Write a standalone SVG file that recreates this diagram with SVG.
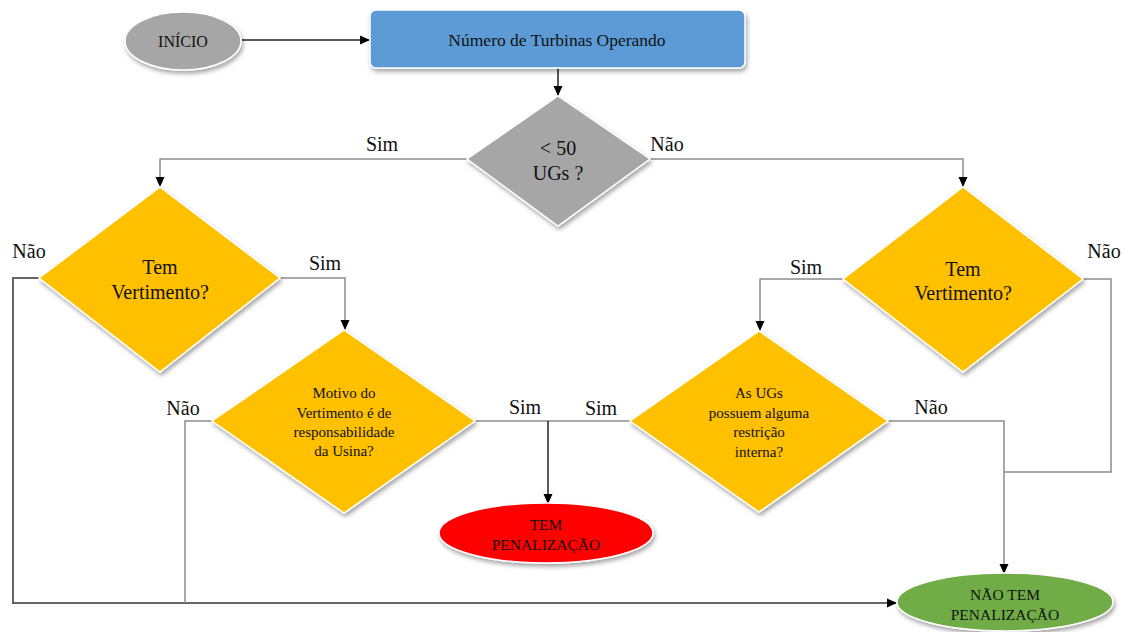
<svg xmlns="http://www.w3.org/2000/svg" width="1128" height="632" viewBox="0 0 1128 632">
<style>
.node{stroke:#ffffff;stroke-width:1.5;filter:url(#sh)}
.t{fill:#111;text-anchor:middle}
.lbl{font-size:20px;fill:#111;text-anchor:middle}
.c{fill:none;stroke:#8c8c8c;stroke-width:1.5}
.ca{fill:none;stroke:#8c8c8c;stroke-width:1.5;marker-end:url(#ah)}
.cb{fill:none;stroke:#222;stroke-width:1.5;marker-end:url(#ah)}
.cd{fill:none;stroke:#666;stroke-width:2;marker-end:url(#ah)}
</style>
<defs>
<filter id="sh" x="-20%" y="-20%" width="140%" height="150%">
<feDropShadow dx="1.5" dy="3" stdDeviation="2" flood-color="#000" flood-opacity="0.35"/>
</filter>
<marker id="ah" markerWidth="10" markerHeight="10" refX="9" refY="5" orient="auto" markerUnits="userSpaceOnUse">
<path d="M0,0.5 L10,5 L0,9.5 Z" fill="#000"/>
</marker>
</defs>
<rect width="1128" height="632" fill="#ffffff"/>
<g id="connectors">
<path class="cb" d="M242,40 L369,40"/>
<path class="cb" d="M558,67 V95"/>
<path class="ca" d="M467,159 H160 V186"/>
<path class="ca" d="M650,159 H963 V186"/>
<path class="ca" d="M280,278 H345 V329"/>
<path class="cd" d="M39,278 H13 V603 H896"/>
<path class="c" d="M212,421 H185 V603"/>
<path class="c" d="M475,421 H630"/>
<path class="cb" d="M548,421 V503"/>
<path class="ca" d="M843,279 H760 V330"/>
<path class="c" d="M1083,279 H1111 V472 H1004"/>
<path class="ca" d="M888,421 H1004 V573"/>
</g>
<g font-family="Liberation Serif, Times New Roman, serif">
<g id="inicio">
<ellipse class="node" cx="183" cy="41" rx="58" ry="29" fill="#a6a6a6"/>
<text class="t" x="183" y="47" font-size="16">INÍCIO</text>
</g>
<g id="turbinas">
<rect class="node" x="370" y="10" width="375" height="58" rx="6" fill="#5b9bd5"/>
<text class="t" x="557" y="46" font-size="17.5">Número de Turbinas Operando</text>
</g>
<g id="ugs50">
<polygon class="node" points="558,96 650,159 558,226 467,159" fill="#a6a6a6"/>
<text class="t" x="558" y="155" font-size="20">&lt; 50</text>
<text class="t" x="558" y="180" font-size="20">UGs ?</text>
</g>
<g id="vert-left">
<polygon class="node" points="160,187 280,278 160,372 39,278" fill="#ffc000"/>
<text class="t" x="160" y="274" font-size="20">Tem</text>
<text class="t" x="160" y="299" font-size="20">Vertimento?</text>
</g>
<g id="vert-right">
<polygon class="node" points="963,187 1083,279 963,372 843,279" fill="#ffc000"/>
<text class="t" x="963" y="276" font-size="20">Tem</text>
<text class="t" x="963" y="300" font-size="20">Vertimento?</text>
</g>
<g id="motivo">
<polygon class="node" points="344,330 475,421 344,513 212,421" fill="#ffc000"/>
<text class="t" x="344" y="398" font-size="15">Motivo do</text>
<text class="t" x="344" y="418" font-size="15">Vertimento é de</text>
<text class="t" x="344" y="437" font-size="15">responsabilidade</text>
<text class="t" x="344" y="456" font-size="15">da Usina?</text>
</g>
<g id="restricao">
<polygon class="node" points="759,331 888,421 759,512 630,421" fill="#ffc000"/>
<text class="t" x="759" y="398" font-size="15">As UGs</text>
<text class="t" x="759" y="418" font-size="15">possuem alguma</text>
<text class="t" x="759" y="437" font-size="15">restrição</text>
<text class="t" x="759" y="457" font-size="15">interna?</text>
</g>
<g id="tem-penalizacao">
<ellipse class="node" cx="546" cy="533" rx="107" ry="30" fill="#ff0000"/>
<text class="t" x="546" y="530" font-size="15.5" fill="#200">TEM</text>
<text class="t" x="546" y="550" font-size="15.5" fill="#200">PENALIZAÇÃO</text>
</g>
<g id="nao-tem-penalizacao">
<ellipse class="node" cx="1005" cy="602" rx="108" ry="29" fill="#70ad47"/>
<text class="t" x="1005" y="600" font-size="15.5">NÃO TEM</text>
<text class="t" x="1005" y="620" font-size="15.5">PENALIZAÇÃO</text>
</g>
<g id="labels">
<text class="lbl" x="382" y="151">Sim</text>
<text class="lbl" x="667" y="151">Não</text>
<text class="lbl" x="29" y="258">Não</text>
<text class="lbl" x="325" y="270">Sim</text>
<text class="lbl" x="183" y="415">Não</text>
<text class="lbl" x="525" y="414">Sim</text>
<text class="lbl" x="601" y="415">Sim</text>
<text class="lbl" x="931" y="414">Não</text>
<text class="lbl" x="806" y="274">Sim</text>
<text class="lbl" x="1104" y="258">Não</text>
</g>
</g>
</svg>
